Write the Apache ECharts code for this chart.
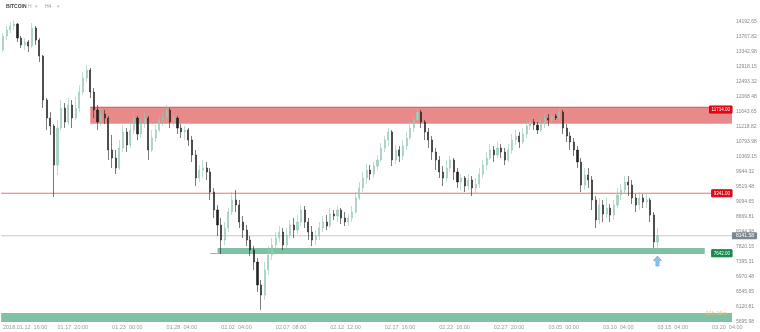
<!DOCTYPE html>
<html><head><meta charset="utf-8">
<script src="https://cdn.jsdelivr.net/npm/echarts/dist/echarts.min.js"></script>
<style>html,body{margin:0;padding:0;background:#fff}#c{width:760px;height:332px}</style>
</head><body><div id="c"></div>
<script>
// ---- data ----
const xTickLabels = ['2018.01.12  16:00','01.17  20:00','01.23  00:00','01.28  04:00','02.02  04:00','02.07  08:00','02.12  12:00','02.17  16:00','02.22  16:00','02.27  20:00','03.05  00:00','03.10  04:00','03.15  04:00','03.20  04:00'];
const barsPerTick = 15;
const slotCount = 201;

const opens = [
13399,13796,13965,14079,14135,13739,13541,13626,13512,14022,
13682,13229,11983,11473,11247,10142,11190,11756,11360,11841,
11473,11756,12210,12606,12833,12210,11700,11360,11587,11473,
10567,10340,10057,10624,11077,10709,11133,11473,11020,11303,
11473,10567,10907,11133,11417,11473,11700,11360,11473,11190,
11077,11133,10850,10425,9774,10001,10057,9944,9378,8868,
8443,8018,8358,8811,9151,9009,8528,8301,8018,7735,
7395,6744,6461,7169,7593,7877,8075,8245,7877,8160,
8443,8301,8528,8868,8528,8245,8018,8131,8358,8528,
8415,8755,
8698,8868,8641,8528,8641,8811,9208,9491,9774,
10001,9887,10114,10284,10624,10850,11077,10284,10567,10397,
10680,10907,11190,11417,11643,11360,11077,10850,10510,10284,
9944,9774,10057,10284,9944,9661,9774,9548,9717,9491,
9604,9887,10142,10340,10567,10425,10624,10510,10284,10567,
10850,10964,10794,11020,11247,11360,11275,11133,11303,11473,
11417,11530,
11473,11643,11190,10964,10794,10567,10227,9576,9859,
9717,9151,8585,9009,8755,8924,8726,9009,9293,9434,
9661,9576,9208,9009,9208,9094,9151,8726,7962];

const closes = [
13796,13965,14079,14135,13739,13541,13626,13512,14022,13682,
13229,11983,11473,11247,10142,11190,11756,11360,11841,11473,
11756,12210,12606,12833,12210,11700,11360,11587,11473,10567,
10340,10057,10624,11077,10709,11133,11473,11020,11303,11473,
10567,10907,11133,11417,11473,11700,11360,11473,11190,11077,
11133,10850,10425,9774,10001,10057,9944,9378,8868,8443,
8018,8358,8811,9151,9009,8528,8301,8018,7735,7395,
6744,6461,7169,7593,7877,8075,8245,7877,8160,8443,
8301,8528,8868,8528,8245,8018,8131,8358,8528,8415,
8755,8698,
8868,8641,8528,8641,8811,9208,9491,9774,10001,
9887,10114,10284,10624,10850,11077,10284,10567,10397,10680,
10907,11190,11417,11643,11360,11077,10850,10510,10284,9944,
9774,10057,10284,9944,9661,9774,9548,9717,9491,9604,
9887,10142,10340,10567,10425,10624,10510,10284,10567,10850,
10964,10794,11020,11247,11360,11275,11133,11303,11473,11417,
11530,11473,
11643,11190,10964,10794,10567,10227,9576,9859,9717,
9151,8585,9009,8755,8924,8726,9009,9293,9434,9661,
9576,9208,9009,9208,9094,9151,8726,7962,8141.58];

const highs = [
13880,14079,14192,14249,14164,13796,13739,13682,14164,14079,
13739,13257,12040,11643,11303,11417,11983,11898,12040,11983,
12068,12408,12776,12974,12890,12323,11841,11756,11700,11530,
10992,10567,10850,11275,11190,11360,11643,11530,11473,11643,
11530,11133,11275,11530,11643,11841,11756,11587,11530,11303,
11247,11190,10964,10567,10142,10284,10227,10057,9491,9009,
8641,8528,8924,9378,9434,9151,8698,8443,8131,7848,
7508,6885,7395,7848,8075,8245,8415,8358,8358,8585,
8641,8726,9009,8981,8641,8415,8301,8528,8698,8726,
8924,8868,
8981,8924,8811,8755,8981,9378,9661,9944,10171,
10142,10227,10425,10765,10964,11190,11133,10709,10680,10850,
11077,11360,11558,11756,11700,11417,11190,10964,10624,10397,
10114,10284,10397,10340,10057,9887,9831,9887,9831,9774,
10057,10284,10510,10737,10680,10794,10737,10624,10737,11020,
11133,11077,11190,11417,11473,11445,11360,11473,11587,11587,
11643,11587,
11756,11700,11303,11077,10907,10680,10340,10057,10057,
9831,9264,9208,9151,9208,9038,9151,9491,9604,9831,
9831,9717,9321,9378,9321,9321,9208,8811,8358];

const lows = [
13342,13682,13880,13965,13626,13456,13399,13342,13456,13541,
13059,11756,11133,10992,9236,9859,11133,11190,11275,11190,
11417,11643,12125,12493,12040,11473,11133,11247,11303,10284,
10057,9887,10001,10510,10510,10624,11020,10850,10907,11190,
10284,10510,10794,11077,11247,11360,11190,11247,11020,10907,
10850,10680,10227,9548,9661,9774,9717,9151,8641,8131,
7622,7877,8245,8726,8811,8358,8075,7848,7565,7169,
6546,6036,6319,7027,7452,7735,7962,7735,7792,8075,
8075,8188,8415,8358,8018,7848,7877,8018,8245,8301,
8358,8585,
8528,8471,8415,8415,8528,8755,9151,9378,9604,
9717,9774,10001,10227,10510,10680,10114,10171,10227,10284,
10567,10850,11077,11303,11190,10850,10624,10284,10001,9774,
9548,9661,9944,9717,9491,9434,9378,9434,9264,9321,
9491,9774,10001,10284,10227,10340,10340,10142,10227,10454,
10709,10624,10737,10907,11133,11133,11020,11077,11190,11247,
11303,11417,
11417,11020,10794,10567,10397,10057,9378,9434,9491,
8868,8358,8471,8528,8641,8528,8585,8924,9151,9321,
9264,9038,8811,8868,8924,8924,8528,7792,7678];

const yMin = 5695.98;
const yStep = 424.8335;
const yStepCount = 21;
const resistanceZone = [11312, 11776];
const resistanceZoneStart = 24;
const resistanceTag = 11714;
const resistanceLine = 9341;
const currentPrice = 8141.58;
const supportZone = [7622, 7792];
const supportZoneStart = 59;
const supportZoneEnd = 193;
const supportTag = 7642;
const lowerZone = [5695.98, 5950];
const arrowIndex = 180;
const arrowPrice = 7423;
const countdownText = '01h 16m';

// ---- chart ----
const categories = Array.from({length: slotCount}, (_, i) => String(i));
const candleData = closes.map((c, i) => [opens[i], c, lows[i], highs[i]]);
const onePx = yStep / 15; // value span of one pixel row, used for hairline bands

const chart = echarts.init(document.getElementById('c'), null, {renderer: 'canvas'});
const FONT = 'Liberation Sans, Arial, sans-serif';
const CLEAR = 'rgba(0,0,0,0)';

const tagLabel = (bg, border) => ({
  show: true, position: 'insideEndTop', distance: 0,
  align: 'right', verticalAlign: 'middle',
  backgroundColor: bg, borderColor: border, borderWidth: 0.5,
  color: '#fff', fontSize: 4.5, fontFamily: FONT, padding: [1, 2, 1, 2],
  formatter: p => Number(p.value).toFixed(2)
});

chart.setOption({
  animation: false,
  backgroundColor: '#ffffff',
  grid: {left: 0, right: 28, top: 7, bottom: 10, containLabel: false},
  graphic: [
    {type: 'text', left: 6, top: 4, style: {text: 'BITCOIN', fill: '#444', font: 'bold 5px ' + FONT}},
    {type: 'text', left: 28, top: 4, style: {text: 'H', fill: '#aaa', font: '5px ' + FONT}},
    {type: 'text', left: 35, top: 4, style: {text: '▾', fill: '#bbb', font: '5px ' + FONT}},
    {type: 'text', left: 45, top: 4, style: {text: 'H4', fill: '#999', font: '5px ' + FONT}},
    {type: 'text', left: 57, top: 4, style: {text: '▾', fill: '#bbb', font: '5px ' + FONT}}
  ],
  xAxis: {
    type: 'category', data: categories, boundaryGap: true,
    axisLine: {show: false}, axisTick: {show: false}, splitLine: {show: false},
    axisLabel: {
      interval: barsPerTick - 1, margin: 2, align: 'left',
      color: '#999', fontSize: 5.5, fontFamily: FONT,
      formatter: (v, idx) => xTickLabels[Math.round(idx / barsPerTick)] || ''
    }
  },
  yAxis: {
    type: 'value', position: 'right', scale: true,
    min: yMin, max: yMin + yStepCount * yStep, interval: yStep,
    axisLine: {show: false}, axisTick: {show: false}, splitLine: {show: false},
    axisLabel: {
      margin: 4, align: 'left', color: '#888', fontSize: 5, fontFamily: FONT,
      showMaxLabel: false,
      formatter: v => v > yMin + (yStepCount - 0.5) * yStep ? '' : v.toFixed(2)
    }
  },
  series: [
    {
      type: 'candlestick', data: candleData, barWidth: 1.6, z: 3,
      itemStyle: {color: '#a6d4c0', color0: '#222222', borderColor: '#92c8b0', borderColor0: '#222222', borderWidth: 0.6},
      markArea: {
        silent: true,
        data: [
          [{xAxis: String(resistanceZoneStart), yAxis: resistanceZone[1], itemStyle: {color: 'rgba(228,118,116,0.85)'}}, {yAxis: resistanceZone[0]}],
          [{xAxis: String(resistanceZoneStart), yAxis: resistanceZone[1] + onePx * 0.5, itemStyle: {color: 'rgba(214,70,66,0.9)'}}, {yAxis: resistanceZone[1] - onePx * 0.5}],
          [{yAxis: resistanceLine + onePx * 0.5, itemStyle: {color: 'rgba(222,112,104,0.95)'}}, {yAxis: resistanceLine - onePx * 0.5}],
          [{yAxis: currentPrice + onePx * 0.5, itemStyle: {color: 'rgba(200,200,200,1)'}}, {yAxis: currentPrice - onePx * 0.5}],
          [{xAxis: String(supportZoneStart), yAxis: supportZone[1], itemStyle: {color: 'rgba(112,186,153,0.9)'}}, {xAxis: String(supportZoneEnd), yAxis: supportZone[0]}],
          [{xAxis: String(supportZoneStart - 2), yAxis: supportZone[0] + onePx, itemStyle: {color: 'rgba(112,186,153,0.9)'}}, {xAxis: String(supportZoneStart), yAxis: supportZone[0]}],
          [{yAxis: lowerZone[1], itemStyle: {color: 'rgba(112,186,153,0.9)'}}, {yAxis: lowerZone[0]}]
        ]
      }
    },
    {
      type: 'scatter', silent: true, z: 4,
      data: [[String(arrowIndex), arrowPrice]],
      symbol: 'path://M5,0 L10,5 L7,5 L7,11 L3,11 L3,5 L0,5 Z',
      symbolSize: [8, 10],
      itemStyle: {color: '#6bb6ec', borderColor: '#3d95d6', borderWidth: 0.6},
      markLine: {
        silent: true, symbol: 'none', animation: false,
        lineStyle: {color: CLEAR, width: 0},
        data: [
          {yAxis: resistanceTag, label: tagLabel('#e30613', '#a00')},
          {yAxis: resistanceLine, label: tagLabel('#e30613', '#a00')},
          {yAxis: currentPrice,
           label: {show: true, position: 'end', distance: 0, backgroundColor: '#7c868d', color: '#fff', fontSize: 5, fontFamily: FONT, padding: [1, 3, 1, 4], borderRadius: [0, 1, 1, 0],
                   formatter: p => Number(p.value).toFixed(2)}},
          {yAxis: supportTag, label: tagLabel('#138a4c', '#0d6a39')},
          {yAxis: lowerZone[1],
           label: {show: true, position: 'insideEndTop', distance: [5, 0], align: 'right', verticalAlign: 'middle', color: '#e3c37a', fontSize: 5.5, fontFamily: FONT, formatter: countdownText}}
        ]
      }
    }
  ]
});
</script></body></html>
